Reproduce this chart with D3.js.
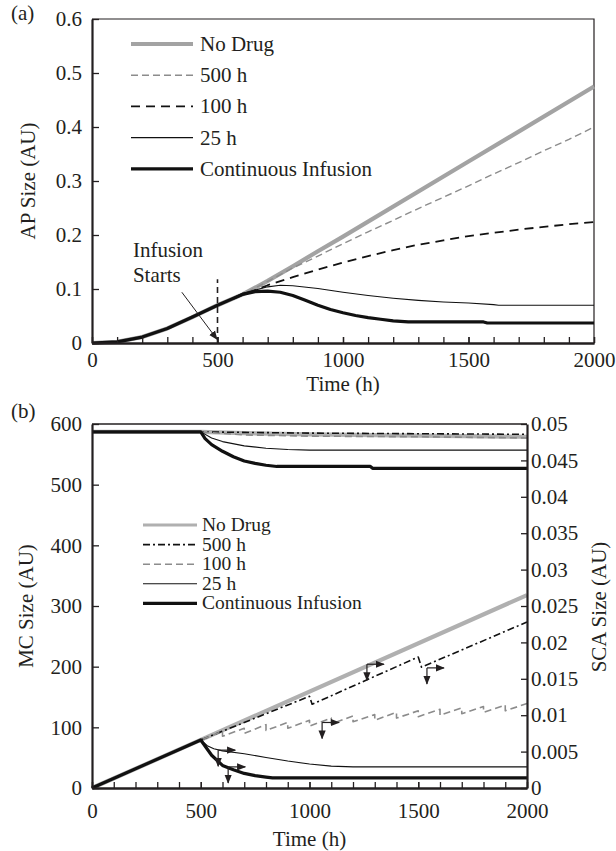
<!DOCTYPE html>
<html><head><meta charset="utf-8">
<script src="https://cdn.jsdelivr.net/npm/d3@7"></script>
<style>
body{margin:0;background:#fff}
svg{display:block}
svg text{font-family:"Liberation Serif","Times New Roman",Times,"DejaVu Serif",serif !important;fill:#231f20}
</style>
</head><body>
<svg id="c" width="616" height="851"></svg>
<script>
// ---------- Panel (a): AP size ----------
const seriesNames = ["No Drug", "500 h", "100 h", "25 h", "Continuous Infusion"];
const apBase = [[0,0],[100,0.002],[200,0.011],[300,0.027],[400,0.048],[500,0.070]];
const apNoDrug = [[500,0.070],[600,0.090],[700,0.115],[800,0.142],[900,0.170],[1000,0.197],[1500,0.336],[2000,0.475]];
const ap500 = [[500,0.070],[600,0.090],[700,0.114],[800,0.139],[900,0.161],[1000,0.184],[1100,0.206],[1200,0.227],[1300,0.249],[1400,0.270],[1500,0.291],[1600,0.313],[1700,0.334],[1800,0.356],[1900,0.377],[2000,0.400]];
const ap100 = [[500,0.070],[600,0.089],[700,0.107],[800,0.122],[900,0.136],[1000,0.149],[1100,0.161],[1200,0.172],[1300,0.182],[1400,0.190],[1500,0.198],[1600,0.204],[1700,0.210],[1800,0.215],[1900,0.220],[2000,0.224]];
const ap25 = [[500,0.070],[600,0.092],[700,0.104],[750,0.107],[800,0.106],[900,0.101],[1000,0.094],[1100,0.088],[1200,0.083],[1300,0.079],[1400,0.076],[1500,0.074],[1600,0.071],[1620,0.070],[2000,0.070]];
const apCI = [[500,0.070],[600,0.090],[650,0.095],[700,0.096],[750,0.094],[800,0.088],[850,0.079],[900,0.070],[950,0.062],[1000,0.056],[1050,0.051],[1100,0.047],[1150,0.044],[1200,0.041],[1260,0.039],[1560,0.039],[1575,0.037],[2000,0.037]];
const apYTicks = [0,0.1,0.2,0.3,0.4,0.5,0.6];

// ---------- Panel (b): MC size (left axis) ----------
const mcBase = [[0,587],[500,587]];
const mcNoDrug = [[500,587],[700,585],[1000,583],[1500,581],[2000,579]];
const mc500 = [[500,587],[1000,585],[1500,584],[2000,583]];
const mc100 = [[500,587],[700,582],[1000,580],[1500,579],[2000,577]];
const mc25 = [[500,587],[550,577],[600,571],[700,564],[800,560],[900,558],[1000,557],[2000,557]];
const mcCI = [[500,587],[520,576],[550,566],[600,555],[650,546],[700,539],[750,535],[800,532],[850,530],[1280,530],[1290,527],[2000,527]];
const mcYTicks = [0,100,200,300,400,500,600];

// ---------- Panel (b): SCA size (right axis) ----------
const scaBase = [[0,0],[500,0.0066]];
const scaNoDrug = [[500,0.0066],[2000,0.0265]];
const sca500 = [[500,0.0066],[1000,0.0126],[1012,0.0115],[1500,0.0180],[1515,0.0166],[2000,0.0228]];
const sca100 = [[500,0.0066],[600,0.0078],[600,0.0071],[700,0.0082],[700,0.0075],[800,0.0087],[800,0.0079],[900,0.0090],[900,0.0082],[1000,0.0093],[1000,0.0085],[1100,0.0096],[1100,0.0088],[1200,0.0099],[1200,0.0091],[1300,0.0101],[1300,0.0093],[1400,0.0104],[1400,0.0096],[1500,0.0106],[1500,0.0098],[1600,0.0108],[1600,0.0100],[1700,0.0110],[1700,0.0102],[1800,0.0112],[1800,0.0104],[1900,0.0114],[1900,0.0106],[2000,0.0116]];
const sca25 = [[500,0.0066],[530,0.0058],[560,0.0054],[600,0.0051],[700,0.0047],[800,0.0042],[900,0.0037],[1000,0.0033],[1100,0.0030],[1200,0.0029],[2000,0.0029]];
const scaCI = [[500,0.0066],[550,0.0045],[600,0.0031],[650,0.0025],[700,0.0020],[750,0.0017],[800,0.0015],[830,0.0014],[2000,0.0014]];
const scaYTicks = [0,0.005,0.01,0.015,0.02,0.025,0.03,0.035,0.04,0.045,0.05];
// corner points (time, SCA) of the down/right arrow pairs
const scaArrows = [[1264,0.0170],[1540,0.0165],[1058,0.0090],[580,0.0052],[626,0.0029]];

const xMajor = [0,500,1000,1500,2000];
const xMinor = d3.range(0,2001,100);

// ---------- styles ----------
const FONT = '"Liberation Serif","Times New Roman",Times,"DejaVu Serif",serif';
const FS = 21;
const styles = [
  {stroke:"#a3a3a3", width:4.2, dash:null},
  {stroke:"#8c8c8c", width:1.4, dash:"7,4"},
  {stroke:"#111", width:1.8, dash:"9,6"},
  {stroke:"#111", width:1.1, dash:null},
  {stroke:"#111", width:3.2, dash:null}
];
const stylesB = [
  {stroke:"#b0b0b0", width:4.2, dash:null},
  {stroke:"#111", width:1.6, dash:"7,3,2,3"},
  {stroke:"#8c8c8c", width:1.6, dash:"7,4"},
  {stroke:"#111", width:1.1, dash:null},
  {stroke:"#111", width:3.2, dash:null}
];
const ink = "#231f20";

const svg = d3.select("#c").attr("font-family", FONT);
const defs = svg.append("defs");
defs.append("marker").attr("id","ah").attr("viewBox","0 0 10 10").attr("refX",9).attr("refY",5)
  .attr("markerWidth",9).attr("markerHeight",9).attr("markerUnits","userSpaceOnUse").attr("orient","auto")
  .append("path").attr("d","M0,1 L10,5 L0,9 Z").attr("fill",ink);

function drawLine(g, data, line, st){
  g.append("path").datum(data).attr("d",line).attr("fill","none")
   .attr("stroke",st.stroke).attr("stroke-width",st.width)
   .attr("stroke-dasharray",st.dash).attr("stroke-linejoin","round");
}
function styleAxis(g, w){
  g.attr("font-family", FONT);
  g.selectAll("path.domain").attr("stroke",ink).attr("stroke-width",w);
  g.selectAll(".tick line").attr("stroke",ink).attr("stroke-width",1.3);
  g.selectAll(".tick text").attr("font-size",FS).attr("fill",ink).attr("font-family",FONT);
}
const fmt = d => d===0 ? "0" : String(+d.toFixed(3));

// ================= Panel (a) =================
{
  const x = d3.scaleLinear().domain([0,2000]).range([92,594]);
  const y = d3.scaleLinear().domain([0,0.6]).range([343,19]);
  const g = svg.append("g");
  const line = d3.line().x(d=>x(d[0])).y(d=>y(d[1]));

  // frame top/right
  g.append("path").attr("d",`M${x(0)},${y(0.6)}H${x(2000)}V${y(0)}`).attr("fill","none").attr("stroke",ink).attr("stroke-width",1.2);

  const series = [apNoDrug, ap500, ap100, ap25, apCI];
  series.forEach((s,i)=>drawLine(g, apBase.concat(s.slice(1)), line, styles[i]));

  // axes
  const ax = g.append("g").attr("transform",`translate(0,${y(0)})`)
    .call(d3.axisBottom(x).tickValues(xMinor).tickSize(-6).tickSizeOuter(0).tickFormat(""));
  styleAxis(ax,2);
  const ax2 = g.append("g").attr("transform",`translate(0,${y(0)})`)
    .call(d3.axisBottom(x).tickValues(xMajor).tickSize(-6).tickSizeOuter(0).tickPadding(9).tickFormat(d3.format("d")));
  styleAxis(ax2,2);
  const ay = g.append("g").attr("transform",`translate(${x(0)},0)`)
    .call(d3.axisLeft(y).tickValues(apYTicks).tickSize(-7).tickSizeOuter(0).tickPadding(10).tickFormat(fmt));
  styleAxis(ay,2.2);

  g.append("text").attr("x",(x(0)+x(2000))/2).attr("y",391).attr("text-anchor","middle").attr("font-size",FS).text("Time (h)");
  g.append("text").attr("transform",`translate(35,${181}) rotate(-90)`).attr("text-anchor","middle").attr("font-size",FS).text("AP Size (AU)");
  g.append("text").attr("x",11).attr("y",20).attr("font-size",FS).text("(a)");

  // infusion start marker
  g.append("line").attr("x1",x(500)).attr("x2",x(500)).attr("y1",y(0)).attr("y2",y(0.118))
    .attr("stroke",ink).attr("stroke-width",1.6).attr("stroke-dasharray","6,4");
  g.append("text").attr("x",x(163)).attr("y",y(0.159)).attr("font-size",FS).text("Infusion");
  g.append("text").attr("x",x(163)).attr("y",y(0.113)).attr("font-size",FS).text("Starts");
  g.append("line").attr("x1",x(358)).attr("y1",y(0.094)).attr("x2",x(498)).attr("y2",y(0.007))
    .attr("stroke",ink).attr("stroke-width",1).attr("marker-end","url(#ah)");

  // legend
  const lg = g.append("g");
  seriesNames.forEach((n,i)=>{
    const yy = 44 + i*31.2;
    lg.append("line").attr("x1",131).attr("x2",193).attr("y1",yy).attr("y2",yy)
      .attr("stroke",styles[i].stroke).attr("stroke-width",styles[i].width).attr("stroke-dasharray",styles[i].dash);
    lg.append("text").attr("x",200).attr("y",yy+7).attr("font-size",FS).text(n);
  });
}

// ================= Panel (b) =================
{
  const x = d3.scaleLinear().domain([0,2000]).range([92,527]);
  const yL = d3.scaleLinear().domain([0,600]).range([788,424]);
  const yR = d3.scaleLinear().domain([0,0.05]).range([788,424]);
  const g = svg.append("g");
  const lineL = d3.line().x(d=>x(d[0])).y(d=>yL(d[1]));
  const lineR = d3.line().x(d=>x(d[0])).y(d=>yR(d[1]));

  g.append("line").attr("x1",x(0)).attr("x2",x(2000)).attr("y1",yL(600)).attr("y2",yL(600)).attr("stroke",ink).attr("stroke-width",1.6);

  const mcSeries = [mcNoDrug, mc500, mc100, mc25, mcCI];
  const scaSeries = [scaNoDrug, sca500, sca100, sca25, scaCI];
  mcSeries.forEach((s,i)=>drawLine(g, mcBase.concat(s.slice(1)), lineL, stylesB[i]));
  scaSeries.forEach((s,i)=>drawLine(g, scaBase.concat(s.slice(1)), lineR, stylesB[i]));

  // arrow pairs
  scaArrows.forEach(p=>{
    const cx = x(p[0]), cy = yR(p[1]);
    g.append("line").attr("x1",cx).attr("y1",cy).attr("x2",cx+17).attr("y2",cy).attr("stroke",ink).attr("stroke-width",1.2).attr("marker-end","url(#ah)");
    g.append("line").attr("x1",cx).attr("y1",cy).attr("x2",cx).attr("y2",cy+16).attr("stroke",ink).attr("stroke-width",1.2).attr("marker-end","url(#ah)");
  });

  const ax = g.append("g").attr("transform",`translate(0,${yL(0)})`)
    .call(d3.axisBottom(x).tickValues(xMinor).tickSize(-6).tickSizeOuter(0).tickFormat(""));
  styleAxis(ax,2);
  const ax2 = g.append("g").attr("transform",`translate(0,${yL(0)})`)
    .call(d3.axisBottom(x).tickValues(xMajor).tickSize(-6).tickSizeOuter(0).tickPadding(15).tickFormat(d3.format("d")));
  styleAxis(ax2,2);
  const ayL = g.append("g").attr("transform",`translate(${x(0)},0)`)
    .call(d3.axisLeft(yL).tickValues(mcYTicks).tickSize(-7).tickSizeOuter(0).tickPadding(10).tickFormat(d3.format("d")));
  styleAxis(ayL,2.2);
  const ayR = g.append("g").attr("transform",`translate(${x(2000)},0)`)
    .call(d3.axisRight(yR).tickValues(scaYTicks).tickSize(-6).tickSizeOuter(0).tickPadding(4).tickFormat(fmt));
  styleAxis(ayR,2.2);

  g.append("text").attr("x",(x(0)+x(2000))/2).attr("y",846).attr("text-anchor","middle").attr("font-size",FS).text("Time (h)");
  g.append("text").attr("transform",`translate(33,606) rotate(-90)`).attr("text-anchor","middle").attr("font-size",FS).text("MC Size (AU)");
  g.append("text").attr("transform",`translate(606,607) rotate(-90)`).attr("text-anchor","middle").attr("font-size",FS).text("SCA Size (AU)");
  g.append("text").attr("x",11).attr("y",418).attr("font-size",FS).text("(b)");

  const lg = g.append("g");
  seriesNames.forEach((n,i)=>{
    const yy = 525 + i*19.6;
    lg.append("line").attr("x1",143).attr("x2",197).attr("y1",yy).attr("y2",yy)
      .attr("stroke",stylesB[i].stroke).attr("stroke-width",i===0?3:stylesB[i].width).attr("stroke-dasharray",stylesB[i].dash);
    lg.append("text").attr("x",202).attr("y",yy+6).attr("font-size",19.5).text(n);
  });
}
</script>
</body></html>
